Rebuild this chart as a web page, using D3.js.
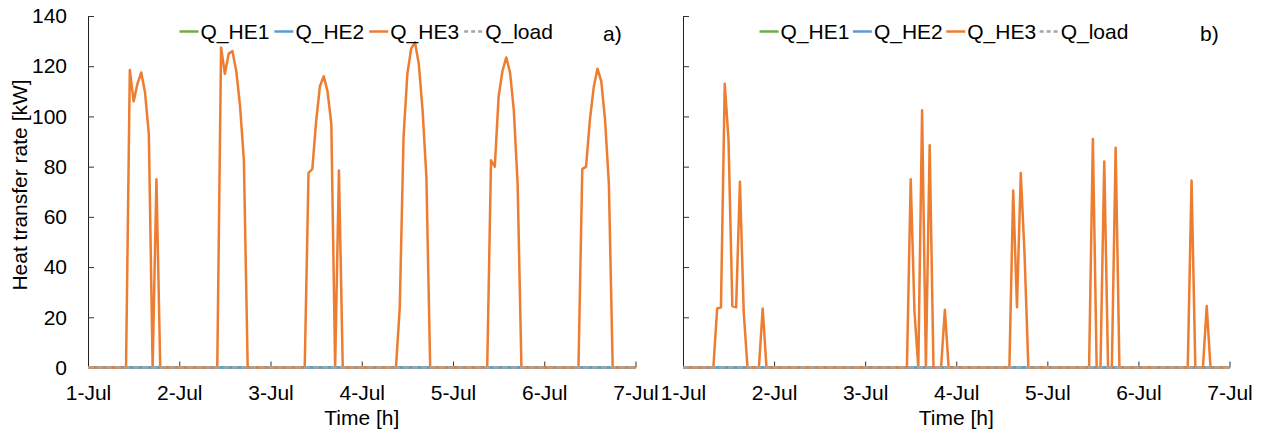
<!DOCTYPE html>
<html>
<head>
<meta charset="utf-8">
<script src="https://cdn.jsdelivr.net/npm/d3@7"></script>
<style>
  html, body { margin: 0; padding: 0; background: #fff; }
  svg { display: block; }
  text { font-family: "Liberation Sans", Arial, sans-serif; fill: #000; }
</style>
</head>
<body>
<svg id="chart" width="1261" height="432"></svg>
<script>
// Hourly heat transfer rates, 1-Jul 00:00 to 7-Jul 00:00 (145 samples)
const seriesNames = ["Q_HE1", "Q_HE2", "Q_HE3", "Q_load"];
const dayLabels = ["1-Jul", "2-Jul", "3-Jul", "4-Jul", "5-Jul", "6-Jul", "7-Jul"];
const yTicks = [0, 20, 40, 60, 80, 100, 120, 140];

const qHE1 = [
  0,0,0,0,0,0,0,0,0,0,0,0,0,0,0,0,0,0,0,0,0,0,0,0,
  0,0,0,0,0,0,0,0,0,0,0,0,0,0,0,0,0,0,0,0,0,0,0,0,
  0,0,0,0,0,0,0,0,0,0,0,0,0,0,0,0,0,0,0,0,0,0,0,0,
  0,0,0,0,0,0,0,0,0,0,0,0,0,0,0,0,0,0,0,0,0,0,0,0,
  0,0,0,0,0,0,0,0,0,0,0,0,0,0,0,0,0,0,0,0,0,0,0,0,
  0,0,0,0,0,0,0,0,0,0,0,0,0,0,0,0,0,0,0,0,0,0,0,0,
  0
];
const qHE2 = [
  0,0,0,0,0,0,0,0,0,0,0,0,0,0,0,0,0,0,0,0,0,0,0,0,
  0,0,0,0,0,0,0,0,0,0,0,0,0,0,0,0,0,0,0,0,0,0,0,0,
  0,0,0,0,0,0,0,0,0,0,0,0,0,0,0,0,0,0,0,0,0,0,0,0,
  0,0,0,0,0,0,0,0,0,0,0,0,0,0,0,0,0,0,0,0,0,0,0,0,
  0,0,0,0,0,0,0,0,0,0,0,0,0,0,0,0,0,0,0,0,0,0,0,0,
  0,0,0,0,0,0,0,0,0,0,0,0,0,0,0,0,0,0,0,0,0,0,0,0,
  0
];
const qLoad = [
  0,0,0,0,0,0,0,0,0,0,0,0,0,0,0,0,0,0,0,0,0,0,0,0,
  0,0,0,0,0,0,0,0,0,0,0,0,0,0,0,0,0,0,0,0,0,0,0,0,
  0,0,0,0,0,0,0,0,0,0,0,0,0,0,0,0,0,0,0,0,0,0,0,0,
  0,0,0,0,0,0,0,0,0,0,0,0,0,0,0,0,0,0,0,0,0,0,0,0,
  0,0,0,0,0,0,0,0,0,0,0,0,0,0,0,0,0,0,0,0,0,0,0,0,
  0,0,0,0,0,0,0,0,0,0,0,0,0,0,0,0,0,0,0,0,0,0,0,0,
  0
];

// Case a)
const qHE3a = [
  0,0,0,0,0,0,0,0,0,0,0,118.5,106,113,117.5,109.5,93,0,75,0,0,0,0,0,
  0,0,0,0,0,0,0,0,0,0,0,127.5,117,125,126,118,104,82.5,0,0,0,0,0,0,
  0,0,0,0,0,0,0,0,0,0,77.5,79,98,112,116,110,97,0,78.5,0,0,0,0,0,
  0,0,0,0,0,0,0,0,0,0,24,92,117,127,129.5,121,102.5,76,0,0,0,0,0,0,
  0,0,0,0,0,0,0,0,0,0,82.5,80,108,118,123.5,117.5,102.5,73,0,0,0,0,0,0,
  0,0,0,0,0,0,0,0,0,0,79,80,98.5,111.5,119,114,98.5,73,0,0,0,0,0,0,
  0
];

// Case b)
const qHE3b = [
  0,0,0,0,0,0,0,0,0,23.5,24,113,90.5,24.5,24,74,22,0,0,0,0,23.5,0,0,
  0,0,0,0,0,0,0,0,0,0,0,0,0,0,0,0,0,0,0,0,0,0,0,0,
  0,0,0,0,0,0,0,0,0,0,0,0,75,22,0,102.5,0,88.5,0,0,0,23,0,0,
  0,0,0,0,0,0,0,0,0,0,0,0,0,0,0,70.5,24,77.5,45,0,0,0,0,0,
  0,0,0,0,0,0,0,0,0,0,0,0,91,0,0,82,0,0,87.5,0,0,0,0,0,
  0,0,0,0,0,0,0,0,0,0,0,0,0,0,74.5,0,0,0,24.5,0,0,0,0,0,
  0
];

const colors = { Q_HE1: "#70AD47", Q_HE2: "#5B9BD5", Q_HE3: "#ED7D31", Q_load: "#A5A5A5" };
const hours = d3.range(qHE1.length);          // hours since 1-Jul 00:00
const dayTicks = dayLabels.map((d, i) => i * 24);

const svg = d3.select("#chart");
const y = d3.scaleLinear().domain([0, 140]).range([367.5, 16]);

const panels = [
  { tag: "a)", x0: 88,  x1: 635.5,  he3: qHE3a, labels: true,  legendX: 179.5, legendGap: 5,   tagX: 603 },
  { tag: "b)", x0: 683, x1: 1229.5, he3: qHE3b, labels: false, legendX: 759.5, legendGap: 3.5, tagX: 1200 }
];

panels.forEach(p => {
  const x = d3.scaleLinear().domain([0, 144]).range([p.x0, p.x1]);
  const g = svg.append("g");

  // x axis: ticks point up into the plot
  const xAxis = g.append("g")
    .attr("transform", `translate(0,${y(0)})`)
    .call(d3.axisBottom(x).tickValues(dayTicks)
      .tickFormat((d, i) => dayLabels[i])
      .tickSizeInner(-6).tickSizeOuter(0).tickPadding(18));
  xAxis.select(".domain").attr("stroke", "#A6A6A6").attr("stroke-width", 1);
  xAxis.selectAll(".tick line").attr("stroke", "#333");
  xAxis.selectAll(".tick text").attr("font-size", 21).attr("font-family", "Liberation Sans, Arial, sans-serif");

  // y axis: ticks point right into the plot
  const yAxis = g.append("g")
    .attr("transform", `translate(${p.x0},0)`)
    .call(d3.axisLeft(y).tickValues(yTicks)
      .tickFormat(p.labels ? d3.format("d") : () => "")
      .tickSizeInner(-6).tickSizeOuter(0).tickPadding(21));
  yAxis.select(".domain").attr("stroke", "#222").attr("stroke-width", 1);
  yAxis.selectAll(".tick line").attr("stroke", "#333");
  yAxis.selectAll(".tick text").attr("font-size", 21).attr("font-family", "Liberation Sans, Arial, sans-serif");

  // series
  const line = d3.line().x((d, i) => x(hours[i])).y(d => y(d));
  const data = { Q_HE1: qHE1, Q_HE2: qHE2, Q_HE3: p.he3, Q_load: qLoad };
  seriesNames.forEach(name => {
    g.append("path")
      .datum(data[name])
      .attr("d", line)
      .attr("fill", "none")
      .attr("stroke", colors[name])
      .attr("stroke-width", 2.5)
      .attr("stroke-linejoin", "round")
      .attr("stroke-dasharray", name === "Q_load" ? "6,3" : null);
  });

  // x axis title
  g.append("text")
    .attr("x", (p.x0 + p.x1) / 2).attr("y", 424.5)
    .attr("text-anchor", "middle").attr("font-size", 21)
    .text("Time [h]");

  // legend
  let lx = p.legendX;
  const ly = 31.5;
  seriesNames.forEach(name => {
    g.append("line")
      .attr("x1", lx).attr("x2", lx + 19).attr("y1", ly).attr("y2", ly)
      .attr("stroke", colors[name]).attr("stroke-width", 2.5)
      .attr("stroke-dasharray", name === "Q_load" ? "4,3" : null);
    const t = g.append("text")
      .attr("x", lx + 21).attr("y", ly + 7.5)
      .attr("font-size", 21)
      .text(name);
    lx += 21 + t.node().getComputedTextLength() + p.legendGap;
  });

  // panel tag
  g.append("text")
    .attr("x", p.tagX).attr("y", 41)
    .attr("font-family", "Liberation Serif, 'Times New Roman', serif")
    .attr("font-size", 21)
    .text(p.tag);
});

// y axis title
svg.append("text")
  .attr("transform", `translate(27,185) rotate(-90)`)
  .attr("text-anchor", "middle").attr("font-size", 21)
  .text("Heat transfer rate [kW]");
</script>
</body>
</html>
